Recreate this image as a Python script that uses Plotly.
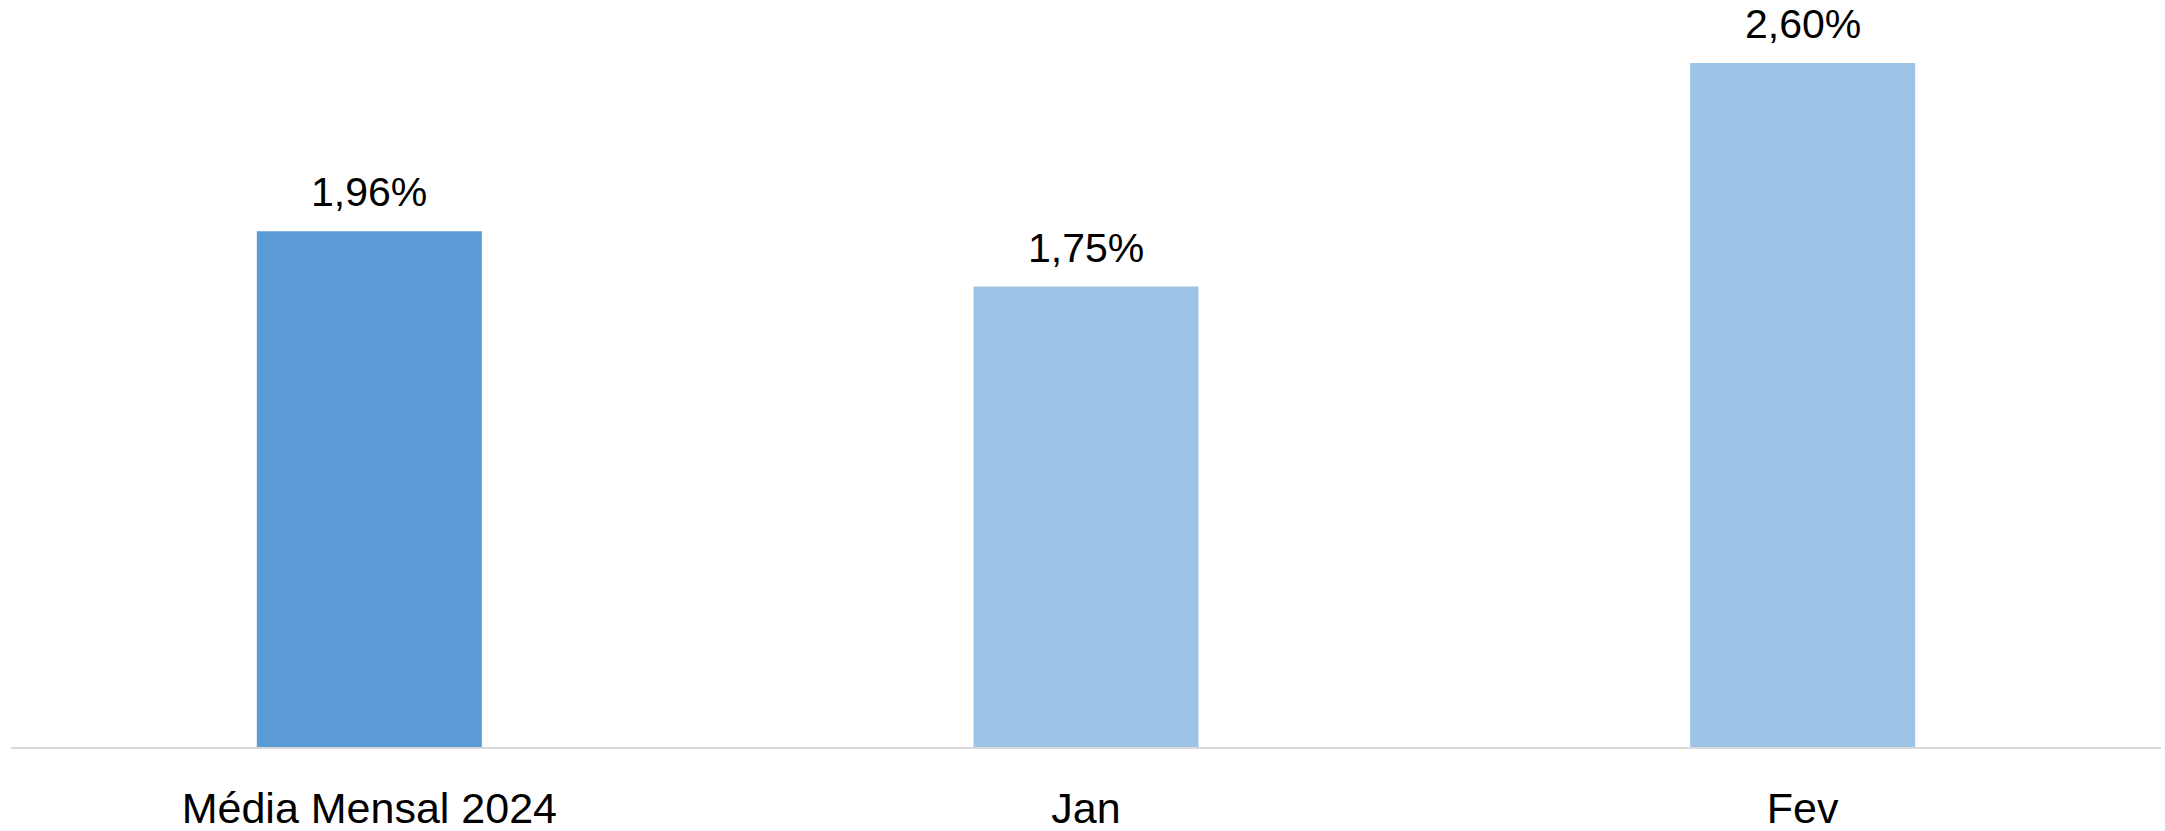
import plotly.graph_objects as go

categories = ["Média Mensal 2024", "Jan", "Fev"]
values = [1.96, 1.75, 2.60]
labels = ["1,96%", "1,75%", "2,60%"]
colors = ["#5B9BD5", "#9DC3E6", "#9DC3E6"]

FONT = "Liberation Sans"

fig = go.Figure()
fig.add_trace(go.Bar(
    x=categories, y=values, marker=dict(color=colors, line=dict(width=0)),
    width=0.314, hoverinfo="skip",
))

for c, v, t in zip(categories, values, labels):
    fig.add_annotation(x=c, y=v, text=t, showarrow=False, yanchor="bottom",
                       yshift=14, font=dict(family=FONT, size=41, color="#000000"))

fig.update_layout(
    width=2165, height=831,
    margin=dict(l=11, r=4, t=0, b=84, autoexpand=False),
    paper_bgcolor="white", plot_bgcolor="white",
    showlegend=False,
    font=dict(family=FONT, color="#000000"),
)
fig.update_xaxes(showline=True, linecolor="#D9D9D9", linewidth=2, ticks="",
                 tickfont=dict(family=FONT, size=43, color="#000000"),
                 ticklabelstandoff=22, automargin=False)
fig.update_yaxes(range=[0, 2.839], visible=False, showgrid=False, automargin=False)

fig.write_html("out.html", config={"displayModeBar": False},
               post_script="document.body.style.margin='0';")
